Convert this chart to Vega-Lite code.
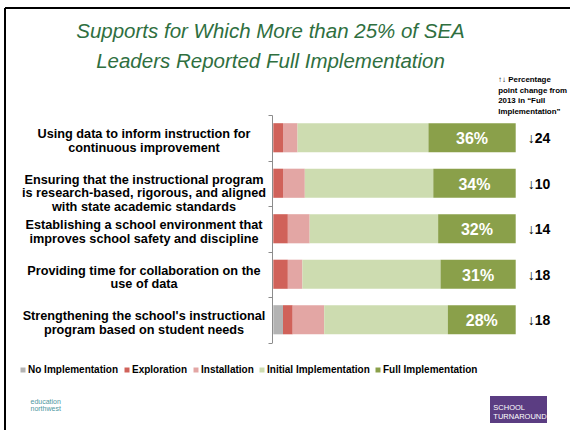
{
  "$schema": "https://vega.github.io/schema/vega-lite/v6.json",
  "width": 565,
  "height": 422,
  "autosize": {"type": "none"},
  "padding": {"left": 5, "top": 8, "right": 0, "bottom": 0},
  "background": "white",
  "config": {
    "font": "Liberation Sans",
    "view": {"stroke": "#000000", "strokeWidth": 2, "strokeDash": [565, 987, 422, 0]}
  },
  "title": {
    "text": ["Supports for Which More than 25% of SEA", "Leaders Reported Full Implementation"],
    "orient": "top",
    "anchor": "middle",
    "frame": "group",
    "dx": -17,
    "offset": -70,
    "baseline": "top",
    "font": "Liberation Sans",
    "fontSize": 20.5,
    "fontStyle": "italic",
    "fontWeight": "normal",
    "color": "#2f6f3f",
    "lineHeight": 30
  },
  "data": {
    "values": [
      {"task": "Using data to inform instruction for\ncontinuous improvement", "No Implementation": 0, "Exploration": 4, "Installation": 6, "Initial Implementation": 54, "Full Implementation": 36, "change": -24},
      {"task": "Ensuring that the instructional program\nis research-based, rigorous, and aligned\nwith state academic standards", "No Implementation": 0, "Exploration": 4, "Installation": 9, "Initial Implementation": 53, "Full Implementation": 34, "change": -10},
      {"task": "Establishing a school environment that\nimproves school safety and discipline", "No Implementation": 0, "Exploration": 6, "Installation": 9, "Initial Implementation": 53, "Full Implementation": 32, "change": -14},
      {"task": "Providing time for collaboration on the\nuse of data", "No Implementation": 0, "Exploration": 6, "Installation": 6, "Initial Implementation": 57, "Full Implementation": 31, "change": -18},
      {"task": "Strengthening the school's instructional\nprogram based on student needs", "No Implementation": 4, "Exploration": 4, "Installation": 13, "Initial Implementation": 51, "Full Implementation": 28, "change": -18}
    ]
  },
  "transform": [
    {"fold": ["No Implementation", "Exploration", "Installation", "Initial Implementation", "Full Implementation"], "as": ["level", "value"]},
    {"calculate": "indexof(['No Implementation','Exploration','Installation','Initial Implementation','Full Implementation'], datum.level)", "as": "k"}
  ],
  "encoding": {
    "y": {
      "field": "task",
      "type": "nominal",
      "sort": null,
      "scale": {"range": [107, 334.5], "paddingInner": 0, "paddingOuter": 0},
      "axis": {
        "title": ["education", "northwest"],
        "orient": "left",
        "offset": -267,
        "grid": false,
        "domainColor": "#8c8c8c",
        "tickColor": "#8c8c8c",
        "tickSize": 4,
        "tickBand": "extent",
        "labelAlign": "center",
        "labelPadding": 124.5,
        "labelOffset": -4,
        "labelFont": "Liberation Sans",
        "labelFontSize": 12.7,
        "labelFontWeight": "bold",
        "labelColor": "#000000",
        "labelLineHeight": 13.7,
        "labelLimit": 0,
        "labelExpr": "split(datum.label, '\\n')",
        "titleAngle": 0,
        "titleX": -242,
        "titleY": 389,
        "titleAlign": "left",
        "titleBaseline": "top",
        "titleFont": "Liberation Sans",
        "titleFontSize": 7,
        "titleFontWeight": "normal",
        "titleLineHeight": 7.5,
        "titleColor": "#4e97a0"
      }
    }
  },
  "layer": [
    {
      "mark": {"type": "bar", "height": {"band": 0.64}},
      "encoding": {
        "x": {
          "field": "value",
          "type": "quantitative",
          "stack": "zero",
          "scale": {"domain": [0, 100], "range": [268.3, 510.7]},
          "axis": {
            "orient": "top",
            "domain": false,
            "ticks": false,
            "labels": false,
            "grid": false,
            "title": ["\u2191\u2193 Percentage", "point change from", "2013 in \u201cFull", "Implementation\u201d"],
            "titleX": 492.7,
            "titleY": 67.5,
            "titleAlign": "left",
            "titleAngle": 0,
            "titleBaseline": "top",
            "titleFont": "Liberation Sans",
            "titleFontSize": 7.9,
            "titleFontWeight": "bold",
            "titleColor": "#000000",
            "titleLineHeight": 10.6
          }
        },
        "color": {
          "field": "level",
          "type": "nominal",
          "scale": {
            "domain": ["No Implementation", "Exploration", "Installation", "Initial Implementation", "Full Implementation"],
            "range": ["#b3b3b3", "#d0625a", "#e3a6a4", "#cddcb0", "#8aa04a"]
          },
          "legend": {
            "orient": "none",
            "legendX": 13,
            "legendY": 357,
            "direction": "horizontal",
            "title": null,
            "symbolType": "square",
            "symbolSize": 25,
            "symbolStrokeWidth": 0,
            "labelFont": "Liberation Sans",
            "labelFontSize": 10,
            "labelFontWeight": "bold",
            "labelColor": "#000000",
            "labelOffset": 0,
            "columnPadding": 3
          }
        },
        "order": {"field": "k", "type": "quantitative"}
      }
    },
    {
      "transform": [
        {"stack": "value", "groupby": ["task"], "sort": [{"field": "k", "order": "ascending"}], "as": ["v0", "v1"]},
        {"filter": "datum.level === 'Full Implementation'"},
        {"calculate": "(datum.v0 + datum.v1) / 2", "as": "mid"},
        {"calculate": "datum.value + '%'", "as": "lbl"}
      ],
      "mark": {"type": "text", "font": "Liberation Sans", "fontSize": 16, "fontWeight": "bold", "color": "#ffffff", "baseline": "middle", "align": "center", "dy": 1.5},
      "encoding": {
        "x": {"field": "mid", "type": "quantitative"},
        "text": {"field": "lbl"}
      }
    },
    {
      "transform": [
        {"filter": "datum.level === 'Full Implementation'"},
        {"calculate": "(datum.change < 0 ? '\u2193' : '\u2191') + abs(datum.change)", "as": "lbl"}
      ],
      "mark": {"type": "text", "font": "Liberation Sans", "fontSize": 14, "fontWeight": "bold", "color": "#000000", "baseline": "middle", "align": "left", "dy": 1.5},
      "encoding": {
        "x": {"datum": 105, "type": "quantitative"},
        "text": {"field": "lbl"}
      }
    },
    {
      "transform": [{"filter": "false"}],
      "mark": {"type": "bar"},
      "encoding": {
        "x": {"field": "value", "type": "quantitative"},
        "fill": {
          "field": "level",
          "type": "nominal",
          "scale": {"domain": ["THE CENTER ON SCHOOL TURNAROUND"], "range": ["#5b3d82"]},
          "legend": {
            "orient": "none",
            "legendX": 485,
            "legendY": 373,
            "title": null,
            "symbolType": "M-1,-0.474L1,-0.474L1,0.474L-1,0.474Z",
            "symbolSize": 3249,
            "symbolStrokeWidth": 0,
            "symbolFillColor": "#5b3d82",
            "labelExpr": "['SCHOOL', 'TURNAROUND']",
            "labelFont": "Liberation Sans",
            "labelFontSize": 7.5,
            "labelFontWeight": "normal",
            "labelBaseline": "alphabetic",
            "labelColor": "#ffffff",
            "labelOffset": -53.7
          }
        }
      }
    }
  ]
}
